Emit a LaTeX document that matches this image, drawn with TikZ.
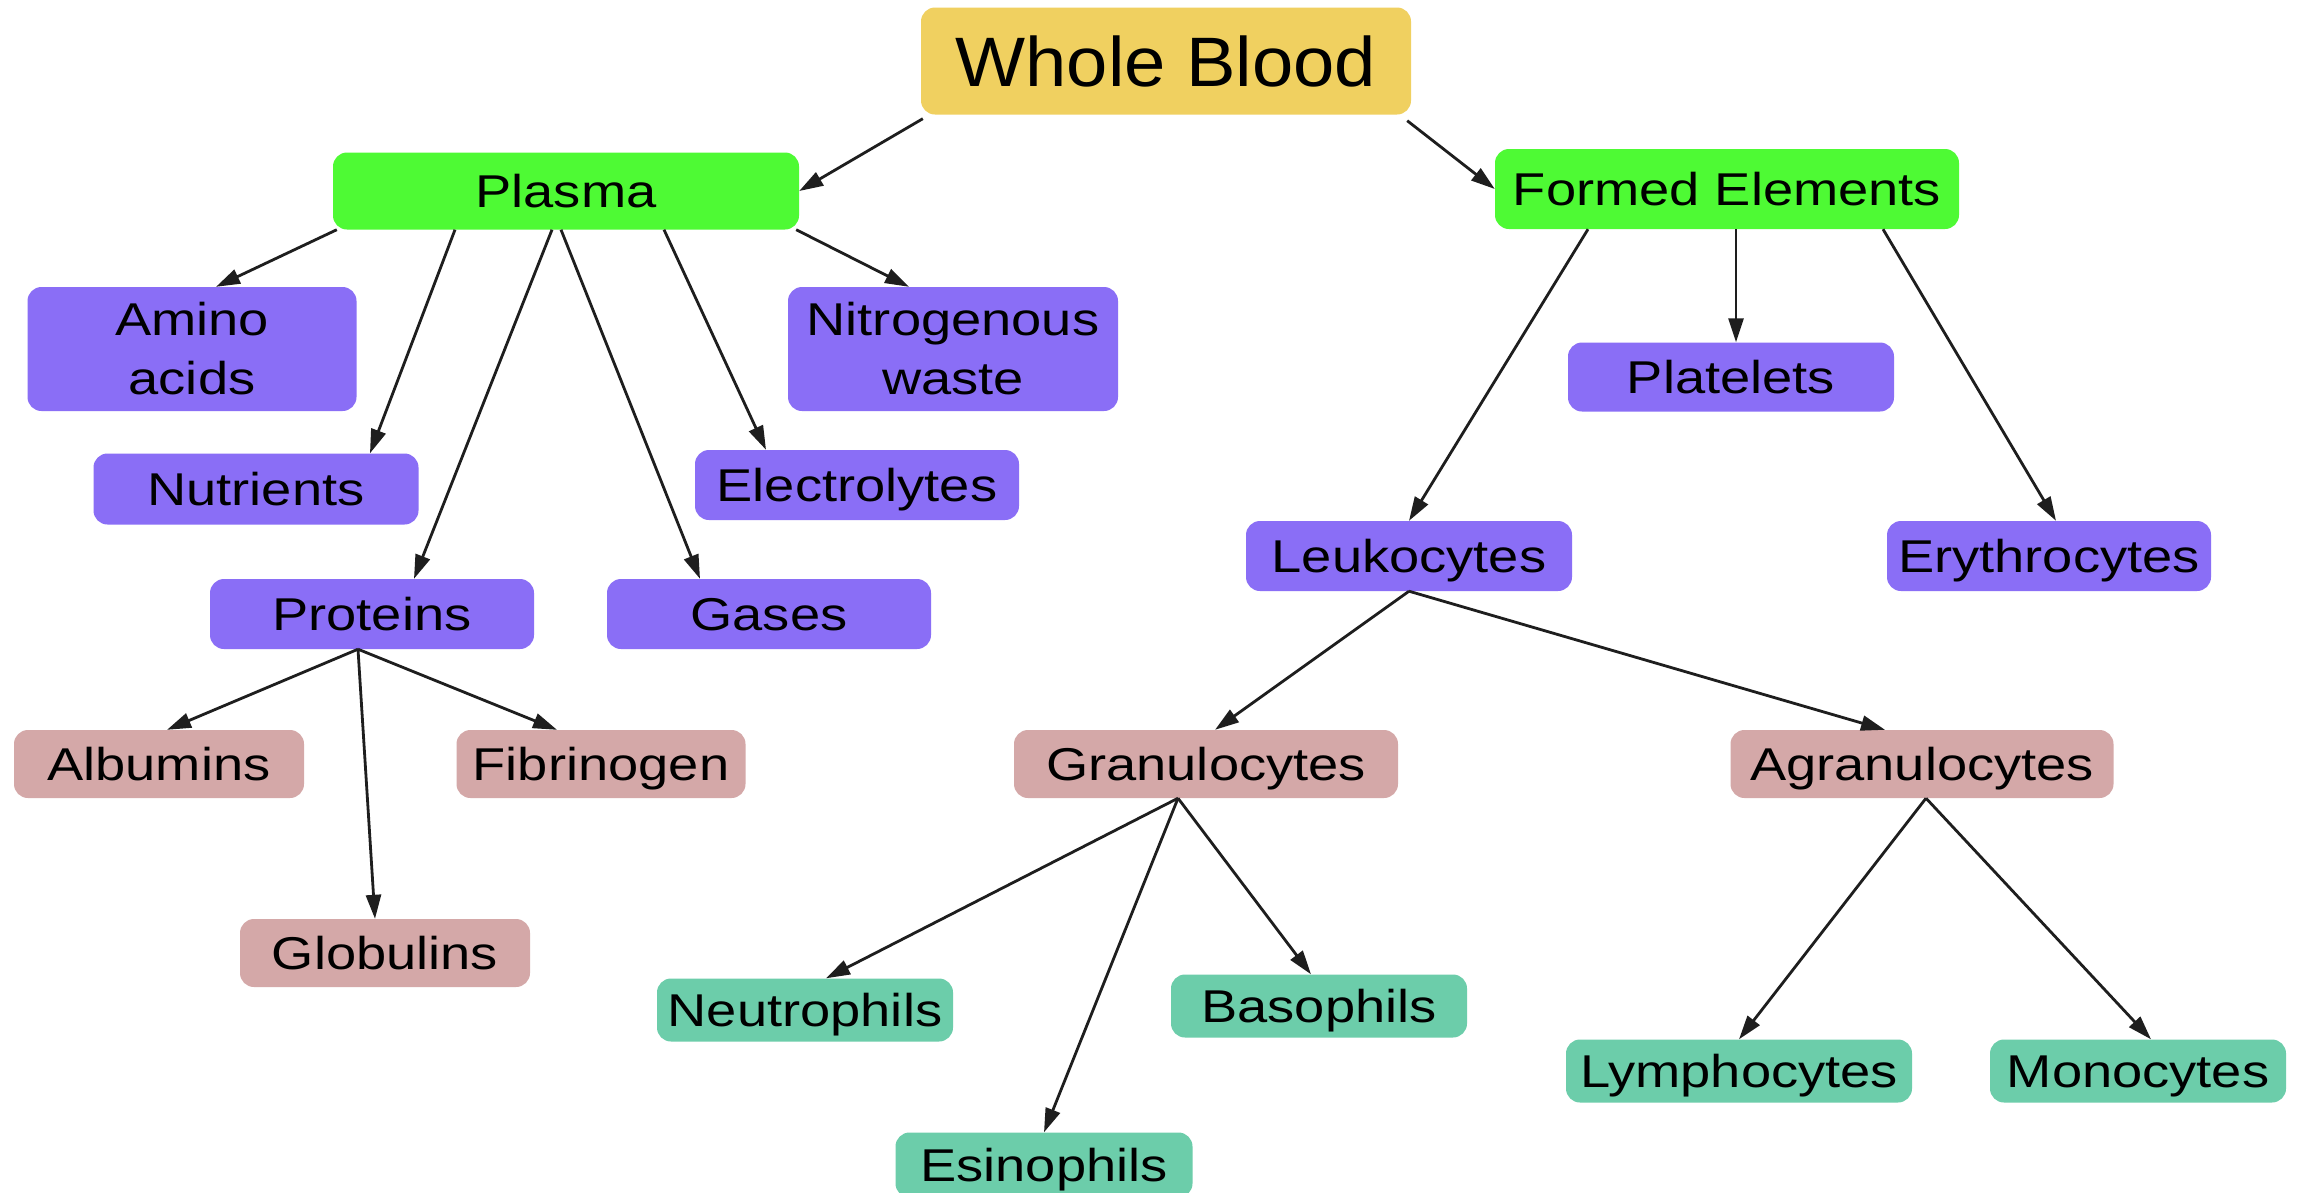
\documentclass[tikz,border=0pt]{standalone}
\usepackage{fontspec}
\setmainfont{Liberation Sans}[FakeStretch=1.18]
\newfontfamily\wbfont{Liberation Sans}[FakeStretch=1.06]
\usetikzlibrary{arrows.meta}
\definecolor{wbcol}{RGB}{240,208,96}
\definecolor{grn}{RGB}{78,250,52}
\definecolor{purp}{RGB}{138,110,246}
\definecolor{pnk}{RGB}{212,168,168}
\definecolor{teal}{RGB}{108,205,170}
\definecolor{edgecol}{RGB}{30,30,30}
\tikzset{
  box/.style={rounded corners=14pt, inner sep=0pt, align=center,
    font=\fontsize{46}{59}\selectfont, text=black},
  one/.style={text height=33.5pt, text depth=0pt},
  wbbox/.style={box, text height=51pt, text depth=0pt, fill=wbcol, font=\wbfont\fontsize{70}{80}\selectfont},
  gbox/.style={box, one, fill=grn},
  pbox/.style={box, one, fill=purp},
  p2box/.style={box, fill=purp},
  rbox/.style={box, one, fill=pnk},
  tbox/.style={box, one, fill=teal},
  arr/.style={line width=2.8pt, draw=edgecol, -{Triangle[length=24pt,width=15pt]}}
}
\begin{document}
\begin{tikzpicture}[x=1pt,y=-1pt]
\useasboundingbox[fill=white] (0,0) rectangle (2305,1192);
% nodes
\node[wbbox, minimum width=490pt, minimum height=107pt] (wb) at (1166,61) {Whole Blood};
\node[gbox, minimum width=466pt, minimum height=77pt] (plasma) at (566,191) {Plasma};
\node[gbox, minimum width=464pt, minimum height=80pt] (formed) at (1727,189) {Formed Elements};
\node[p2box, minimum width=329pt, minimum height=124pt] (amino) at (192,349) {Amino\\acids};
\node[p2box, minimum width=330pt, minimum height=124pt] (nitro) at (953,349) {Nitrogenous\\waste};
\node[pbox, minimum width=325pt, minimum height=71pt] (nutr) at (256,489) {Nutrients};
\node[pbox, minimum width=324pt, minimum height=70pt] (elec) at (857,485) {Electrolytes};
\node[pbox, minimum width=324pt, minimum height=70pt] (prot) at (372,614) {Proteins};
\node[pbox, minimum width=324pt, minimum height=70pt] (gases) at (769,614) {Gases};
\node[pbox, minimum width=326pt, minimum height=69pt] (plat) at (1731,377) {Platelets};
\node[pbox, minimum width=326pt, minimum height=70pt] (leuk) at (1409,556) {Leukocytes};
\node[pbox, minimum width=324pt, minimum height=70pt] (eryth) at (2049,556) {Erythrocytes};
\node[rbox, minimum width=290pt, minimum height=68pt] (albu) at (159,764) {Albumins};
\node[rbox, minimum width=289pt, minimum height=68pt] (fibr) at (601,764) {Fibrinogen};
\node[rbox, minimum width=290pt, minimum height=68pt] (glob) at (385,953) {Globulins};
\node[rbox, minimum width=384pt, minimum height=68pt] (gran) at (1206,764) {Granulocytes};
\node[rbox, minimum width=383pt, minimum height=68pt] (agran) at (1922,764) {Agranulocytes};
\node[tbox, minimum width=296pt, minimum height=63pt] (neut) at (805,1010) {Neutrophils};
\node[tbox, minimum width=296pt, minimum height=63pt] (baso) at (1319,1006) {Basophils};
\node[tbox, minimum width=297pt, minimum height=65pt] (esin) at (1044,1165) {Esinophils};
\node[tbox, minimum width=346pt, minimum height=63pt] (lymph) at (1739,1071) {Lymphocytes};
\node[tbox, minimum width=296pt, minimum height=63pt] (mono) at (2138,1071) {Monocytes};
% edges
\draw[arr] ([shift={(2pt,-4pt)}]wb.south west) -- (plasma.east);
\draw[arr] ([shift={(-4pt,-6pt)}]wb.south east) -- (formed.west);
\draw[arr] ([xshift=4pt]plasma.south west) -- ([xshift=24pt]amino.north);
\draw[arr] ([xshift=-111pt]plasma.south) -- ([xshift=114pt]nutr.north);
\draw[arr] ([xshift=-14pt]plasma.south) -- ([xshift=42pt]prot.north);
\draw[arr] ([xshift=-5pt]plasma.south) -- ([xshift=-69pt]gases.north);
\draw[arr] ([xshift=98pt]plasma.south) -- ([xshift=-91pt]elec.north);
\draw[arr] ([xshift=-3pt]plasma.south east) -- ([xshift=-44pt]nitro.north);
\draw[arr] ([xshift=-139pt]formed.south) -- (leuk.north);
\draw[arr] ([xshift=9pt]formed.south) -- ([xshift=5pt]plat.north);
\draw[arr] ([xshift=156pt]formed.south) -- ([xshift=7pt]eryth.north);
\draw[arr] (leuk.south) -- ([xshift=9pt]gran.north);
\draw[arr] (leuk.south) -- ([xshift=-37pt]agran.north);
\draw[arr] ([xshift=-14pt]prot.south) -- ([xshift=8pt]albu.north);
\draw[arr] ([xshift=-14pt]prot.south) -- ([xshift=-10pt]glob.north);
\draw[arr] ([xshift=-14pt]prot.south) -- ([xshift=-44pt]fibr.north);
\draw[arr] ([xshift=-28pt]gran.south) -- ([xshift=21pt]neut.north);
\draw[arr] ([xshift=-28pt]gran.south) -- (esin.north);
\draw[arr] ([xshift=-28pt]gran.south) -- ([xshift=-8pt]baso.north);
\draw[arr] ([xshift=4pt]agran.south) -- (lymph.north);
\draw[arr] ([xshift=4pt]agran.south) -- ([xshift=13pt]mono.north);
\end{tikzpicture}
\end{document}
